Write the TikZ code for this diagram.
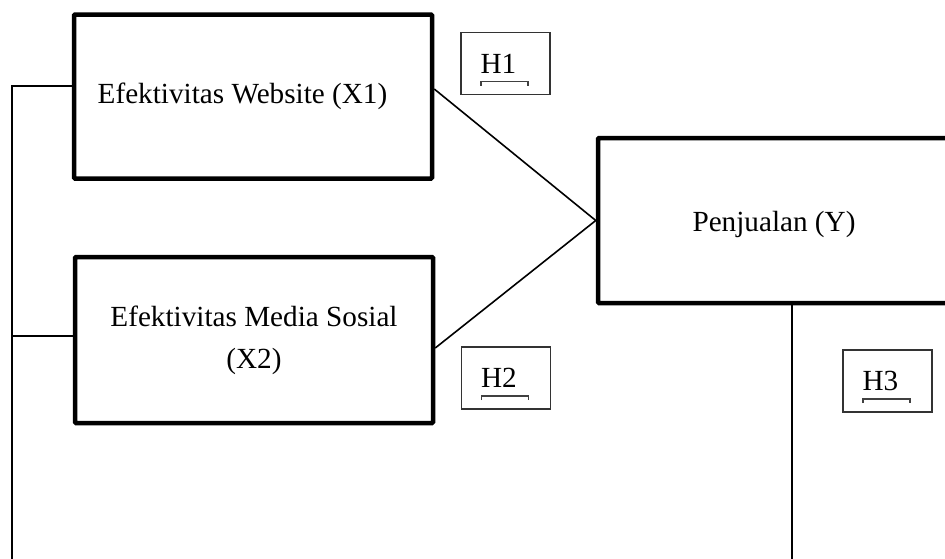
\documentclass[tikz,border=0pt]{standalone}
\usepackage{fontspec}
\setmainfont{Liberation Serif}
\usetikzlibrary{positioning}

\tikzset{
  varbox/.style={draw, line width=4.5pt, rounded corners=1pt,
    minimum width=358pt, minimum height=164pt, inner sep=0pt,
    align=center, font=\fontsize{29.2}{42}\selectfont},
  hypbox/.style={draw=black!80, line width=1.3pt,
    minimum width=89pt, minimum height=62pt, inner sep=0pt,
    font=\fontsize{29.2}{34}\selectfont},
  link/.style={line width=1.6pt},
  hbracket/.style={draw=black!75, line width=1.1pt}
}

\begin{document}
\begin{tikzpicture}[x=1pt, y=-1pt]
        \clip (0,0) rectangle (945,558);
        % variables
        \node[varbox] (x1) at (253,96.5) {Efektivitas Website (X1)\hspace*{21pt}};
        \node[varbox, minimum height=166pt] (x2) at (254,340) {Efektivitas Media Sosial\\(X2)};
        \node[varbox, minimum width=352pt, minimum height=165pt, text height=28pt, text depth=6pt] (y) at (774,220.5) {Penjualan (Y)};
        % hypotheses
        \node[hypbox] (h1) at (505.5,63.5) {H1\hspace*{14pt}};
        \node[hypbox] (h2) at (506,378) {H2\hspace*{14pt}};
        \node[hypbox] (h3) at (887.5,381) {H3\hspace*{14pt}};
        \foreach \h in {h1,h2,h3}
            \draw[hbracket] ([shift={(-24.5pt,-22pt)}]\h.center) -- ++(0pt,4pt) -- ++(47pt,0pt) -- ++(0pt,-4pt);
        % connectors
        \coordinate (lbot) at (12,562);
        \coordinate (ybot) at (792,562);
        \draw[link] ([yshift=7.5pt]x1.east) -- (y.west);
        \draw[link] ([yshift=-8pt]x2.east) -- (y.west);
        \draw[link] ([yshift=10.5pt]x1.west) -| (lbot);
        \draw[link] ([yshift=4pt]x2.west) coordinate (x2in) -- (lbot |- x2in);
        \draw[link] (y.south -| ybot) -- (ybot);
    \end{tikzpicture}
\end{document}
